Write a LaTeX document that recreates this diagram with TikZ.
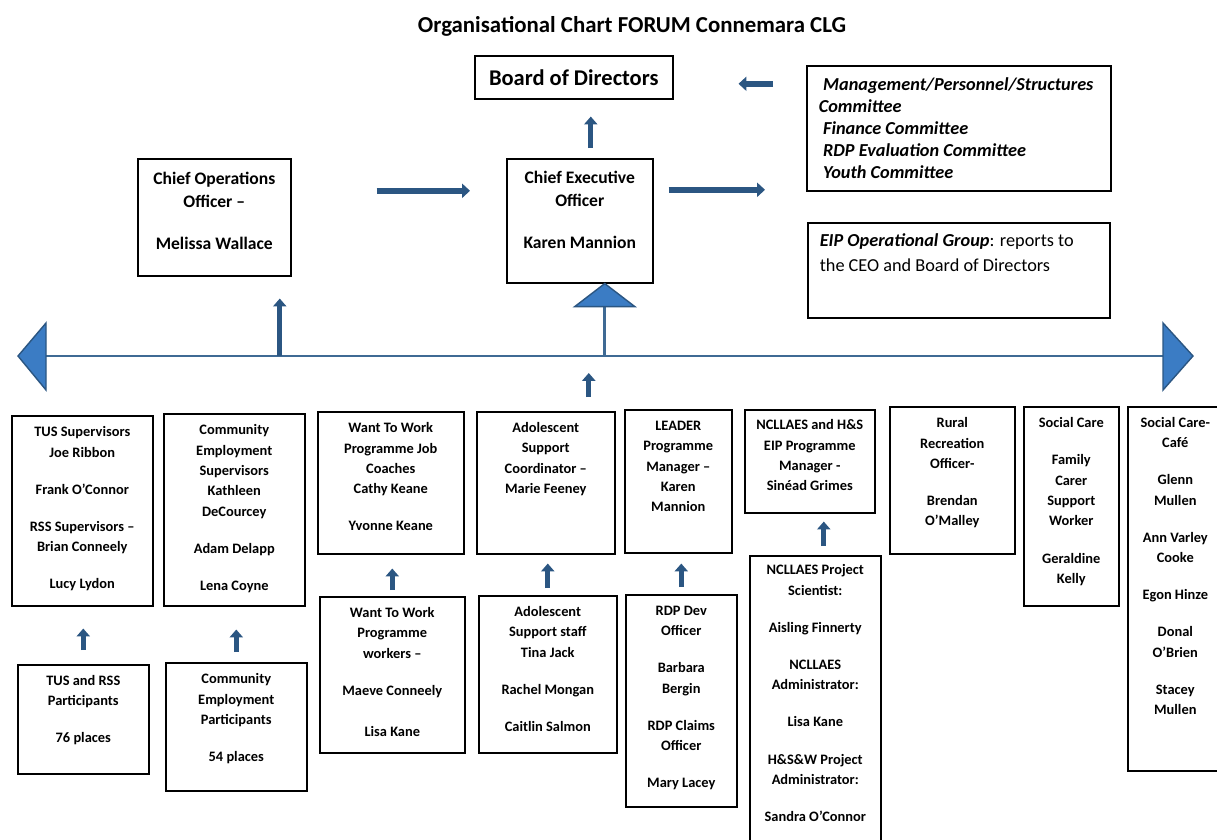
\documentclass[tikz,border=0pt]{standalone}
\usepackage{fontspec}
\setmainfont{Carlito}
\usetikzlibrary{arrows.meta}
\definecolor{arrowblue}{HTML}{2B5682}
\definecolor{trifill}{HTML}{3B7CC4}
\definecolor{busblue}{HTML}{3F6A94}

\begin{document}
\begin{tikzpicture}[x=0.02cm, y=-0.02cm,
	box/.style={draw, line width=0.9pt, anchor=north west, inner sep=0pt},
	staff/.style={box, font=\fontsize{8.2}{11.6}\selectfont\bfseries},
	head/.style={box, font=\fontsize{10}{13}\selectfont\bfseries},
	uparrow/.style={draw=arrowblue, line width=2.8pt, -{Triangle[length=4.5pt,width=7.5pt]}},
	sidearrow/.style={draw=arrowblue, line width=3.2pt, -{Triangle[length=4.5pt,width=8pt]}},
	busline/.style={draw=busblue, line width=1.5pt},
	bigtip/.style={fill=trifill, draw=arrowblue, line width=0.8pt, line join=miter}]
	\useasboundingbox (0,0) rectangle (1217,839);

	\node[font=\fontsize{13}{15}\selectfont\bfseries] (title) at (632,26) {Organisational Chart FORUM Connemara CLG};
	\node[box, minimum width=3.96cm, minimum height=0.86cm, font=\fontsize{12.8}{15}\selectfont\bfseries] (board) at (474,55) {Board of Directors};
	\node[box, inner xsep=0.24cm, font=\fontsize{10.4}{12.5}\selectfont\bfseries\itshape] (mgmt) at (806,65) {\parbox[t][2.5cm][t]{5.6cm}{\raggedright\vspace{5.2pt}\strut\hspace*{2.5pt}Management/Personnel/Structures\\ Committee\\ \hspace*{2.5pt}Finance Committee\\ \hspace*{2.5pt}RDP Evaluation Committee\\ \hspace*{2.5pt}Youth Committee}};
	\node[box, inner xsep=0.24cm, font=\fontsize{10.4}{14.7}\selectfont] (eip) at (807,222) {\parbox[t][1.9cm][t]{5.56cm}{\raggedright\vspace{3pt}\strut{\bfseries\itshape EIP Operational Group}: reports to\\ the CEO and Board of Directors}};
	\node[head] (coo) at (137,158) {\parbox[t][2.34cm][t]{3.06cm}{\centering\vspace{5.4pt}\strut Chief Operations\\ Officer --\\[11pt] Melissa Wallace}};
	\node[head] (ceo) at (506,158) {\parbox[t][2.48cm][t]{2.92cm}{\centering\vspace{5.2pt}\strut Chief Executive\\ Officer\\[11pt] Karen Mannion}};

	\node[staff] (tus) at (11,415) {\parbox[t][3.8cm][t]{2.82cm}{\centering\vspace{3.8pt}\strut TUS Supervisors\\ Joe Ribbon\\[9.5pt] Frank O'Connor\\[9.5pt] RSS Supervisors --\\ Brian Conneely\\[9.5pt] Lucy Lydon}};
	\node[staff] (ces) at (163,413) {\parbox[t][3.84cm][t]{2.82cm}{\centering\vspace{3.8pt}\strut Community\\ Employment\\ Supervisors\\ Kathleen\\ DeCourcey\\[9.5pt] Adam Delapp\\[9.5pt] Lena Coyne}};
	\node[staff] (wtwc) at (317,411) {\parbox[t][2.84cm][t]{2.92cm}{\centering\vspace{3.8pt}\strut Want To Work\\ Programme Job\\ Coaches\\ Cathy Keane\\[9.5pt] Yvonne Keane}};
	\node[staff] (asc) at (476,411) {\parbox[t][2.84cm][t]{2.76cm}{\centering\vspace{3.6pt}\strut Adolescent\\ Support\\ Coordinator --\\ Marie Feeney}};
	\node[staff] (leader) at (624,409) {\parbox[t][2.86cm][t]{2.14cm}{\centering\vspace{3.6pt}\strut LEADER\\ Programme\\ Manager --\\ Karen\\ Mannion}};
	\node[staff] (eipm) at (744,409) {\parbox[t][2.06cm][t]{2.6cm}{\centering\vspace{3.2pt}\strut NCLLAES and H\&S\\ EIP Programme\\ Manager -\\ Sinéad Grimes}};
	\node[staff] (rural) at (889,406) {\parbox[t][2.94cm][t]{2.5cm}{\centering\vspace{3.8pt}\strut Rural\\ Recreation\\ Officer-\\[9.5pt] Brendan\\ O'Malley}};
	\node[staff] (social) at (1023,406) {\parbox[t][3.98cm][t]{1.9cm}{\centering\vspace{3.8pt}\strut Social Care\\[9.5pt] Family\\ Carer\\ Support\\ Worker\\[9.5pt] Geraldine\\ Kelly}};
	\node[staff] (cafe) at (1127,406) {\parbox[t][7.28cm][t]{1.9cm}{\centering\vspace{3.6pt}\strut Social Care-\\ Café\\[9.5pt] Glenn\\ Mullen\\[9.5pt] Ann Varley\\ Cooke\\[9.5pt] Egon Hinze\\[9.5pt] Donal\\ O'Brien\\[9.5pt] Stacey\\ Mullen}};

	\node[staff] (tusp) at (17,664) {\parbox[t][2.18cm][t]{2.62cm}{\centering\vspace{3.6pt}\strut TUS and RSS\\ Participants\\[9.5pt] 76 places}};
	\node[staff] (cep) at (165,662) {\parbox[t][2.56cm][t]{2.82cm}{\centering\vspace{3.8pt}\strut Community\\ Employment\\ Participants\\[9.5pt] 54 places}};
	\node[staff] (wtww) at (319,596) {\parbox[t][3.12cm][t]{2.9cm}{\centering\vspace{3.6pt}\strut Want To Work\\ Programme\\ workers --\\[9.5pt] Maeve Conneely\\[12pt] Lisa Kane}};
	\node[staff] (ass) at (478,595) {\parbox[t][3.14cm][t]{2.76cm}{\centering\vspace{3.6pt}\strut Adolescent\\ Support staff\\ Tina Jack\\[9.5pt] Rachel Mongan\\[9.5pt] Caitlin Salmon}};
	\node[staff] (rdp) at (625,594) {\parbox[t][4.24cm][t]{2.22cm}{\centering\vspace{3.6pt}\strut RDP Dev\\ Officer\\[9.5pt] Barbara\\ Bergin\\[9.5pt] RDP Claims\\ Officer\\[9.5pt] Mary Lacey}};
	\node[staff] (ncl) at (749,555) {\parbox[t][6.0cm][t]{2.62cm}{\centering\vspace{2.8pt}\strut NCLLAES Project\\ Scientist:\\[9.5pt] Aisling Finnerty\\[9.5pt] NCLLAES\\ Administrator:\\[9.5pt] Lisa Kane\\[9.5pt] H\&S\&W Project\\ Administrator:\\[9.5pt] Sandra O'Connor}};

	\coordinate (busL) at (46,356);
	\coordinate (busR) at (1163,356);
	\coordinate (tribase) at ([xshift=0.5cm, yshift=-0.46cm]ceo.south);
	\draw[busline] (busL) -- (busR);
	\filldraw[bigtip] ([yshift=0.66cm]busL) -- ++(-28,33) -- ++(28,34) -- cycle;
	\filldraw[bigtip] ([yshift=0.66cm]busR) -- ++(30,33) -- ++(-30,34) -- cycle;
	\draw[busline] (tribase) -- (tribase |- busL);
	\filldraw[bigtip] ([xshift=0.5cm]ceo.south) -- ++(-30,23) -- ++(60,0) -- cycle;

	\draw[uparrow, shorten <=0.2cm, shorten >=0.34cm] ([xshift=0.22cm]ceo.north) -- ([xshift=0.22cm]ceo.north |- board.south);
	\draw[sidearrow, shorten <=0.66cm, shorten >=1.3cm] ([yshift=-0.13cm]board.east -| mgmt.west) -- ([yshift=-0.13cm]board.east);
	\draw[sidearrow, shorten <=1.7cm, shorten >=0.72cm] ([yshift=0.53cm]coo.east) -- ([yshift=0.53cm]coo.east -| ceo.west);
	\draw[sidearrow, shorten <=0.3cm, shorten >=0.82cm] ([yshift=0.62cm]ceo.east) -- ([yshift=0.62cm]ceo.east -| mgmt.west);
	\draw[uparrow, shorten >=0.44cm] ([xshift=1.31cm]coo.south |- busL) -- ([xshift=1.31cm]coo.south);
	\draw[uparrow, shorten <=0.28cm, shorten >=0.34cm] ([xshift=0.86cm]asc.north) -- ([xshift=0.86cm]asc.north |- busL);

	\draw[uparrow, shorten <=0.28cm, shorten >=0.44cm] (tusp.north) -- (tusp.north |- tus.south);
	\draw[uparrow, shorten <=0.2cm, shorten >=0.46cm] (cep.north) -- (cep.north |- ces.south);
	\draw[uparrow, shorten <=0.12cm, shorten >=0.28cm] (wtww.north) -- (wtww.north |- wtwc.south);
	\draw[uparrow, shorten <=0.14cm, shorten >=0.18cm] (ass.north) -- (ass.north |- asc.south);
	\draw[uparrow, shorten <=0.14cm, shorten >=0.2cm] (rdp.north) -- (rdp.north |- leader.south);
	\draw[uparrow, shorten <=0.18cm, shorten >=0.16cm] ([xshift=0.17cm]ncl.north) -- ([xshift=0.17cm]ncl.north |- eipm.south);
\end{tikzpicture}
\end{document}
